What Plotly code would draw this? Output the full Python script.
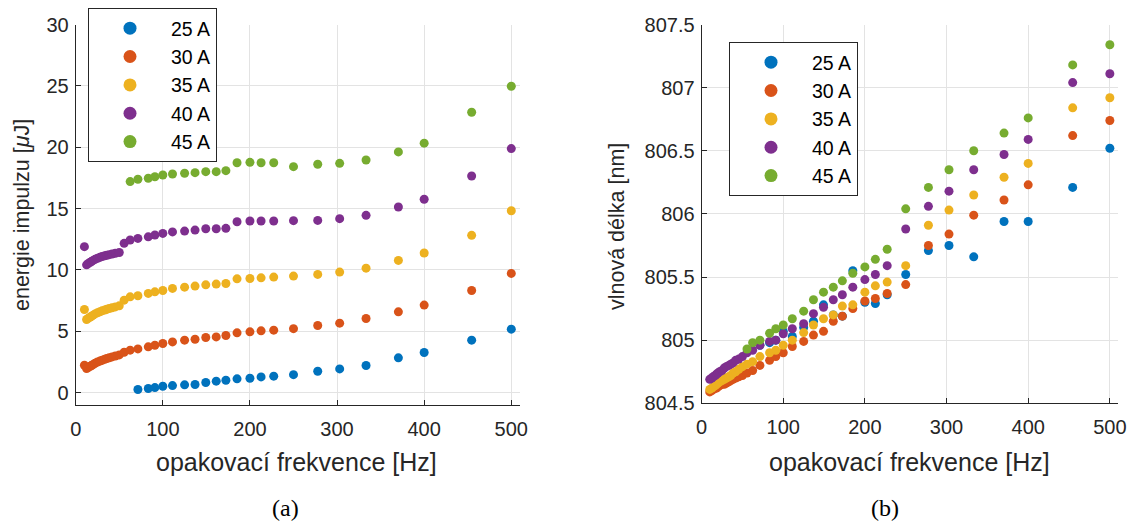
import plotly.graph_objects as go

# ---------------- data ----------------
freq_dense = [10, 12.5, 14.3, 16.7, 18.2, 20, 22.2, 25, 27.8, 30.3, 33.3, 35.7, 38.5, 41.7, 45.5, 50, 55.6]
freq_main = [62.5, 71.4, 83.3, 90.9, 100, 111.1, 125, 137, 149.3, 161.3, 172.4, 185.2, 200, 212.8,
             227.3, 250, 277.8, 303, 333.3, 370.4, 400, 454.5, 500]
freq_all = freq_dense + freq_main          # 30, 35, 40 A
freq_45 = freq_main                        # 45 A (left)
freq_45_wl = [55.6] + freq_main            # 45 A (right)
freq_25 = freq_main[1:]                    # 25 A

labels = ["25 A", "30 A", "35 A", "40 A", "45 A"]
colors = ["#0072BD", "#D95319", "#EDB120", "#7E2F8E", "#77AC30"]

# pulse energy [uJ]
energy_25 = [0.26, 0.34, 0.42, 0.53, 0.58, 0.64, 0.67, 0.83, 0.94, 1.02, 1.13, 1.18, 1.29, 1.35,
             1.47, 1.75, 1.94, 2.22, 2.84, 3.28, 4.28, 5.18]
energy_30 = [2.24, 1.97, 2.05, 2.15, 2.22, 2.30, 2.40, 2.50, 2.58, 2.65, 2.73, 2.79, 2.85, 2.92, 2.99, 3.08, 3.30,
             3.47, 3.57, 3.74, 3.87, 4.01, 4.14, 4.28, 4.36, 4.50, 4.55, 4.66, 4.88, 4.96, 5.04,
             5.10, 5.22, 5.48, 5.67, 6.05, 6.59, 7.14, 8.33, 9.72]
energy_35 = [6.78, 5.97, 6.06, 6.17, 6.24, 6.32, 6.42, 6.52, 6.60, 6.67, 6.74, 6.80, 6.86, 6.92, 6.99, 7.08, 7.54,
             7.81, 7.90, 8.09, 8.22, 8.33, 8.50, 8.60, 8.69, 8.79, 8.85, 8.90, 9.28, 9.31, 9.36,
             9.42, 9.50, 9.64, 9.83, 10.15, 10.78, 11.38, 12.82, 14.83]
energy_40 = [11.90, 10.42, 10.52, 10.63, 10.70, 10.78, 10.87, 10.96, 11.03, 11.10, 11.16, 11.20, 11.25, 11.30, 11.36, 11.42, 12.17,
             12.44, 12.57, 12.70, 12.85, 12.98, 13.10, 13.17, 13.25, 13.36, 13.36, 13.39, 13.93, 13.99, 13.99,
             13.99, 14.02, 14.04, 14.18, 14.45, 15.13, 15.76, 17.66, 19.89]
energy_45 = [17.20, 17.39, 17.47, 17.60, 17.74, 17.82, 17.88, 17.93, 18.01, 18.01, 18.09, 18.74, 18.77, 18.74,
             18.74, 18.42, 18.61, 18.69, 18.96, 19.62, 20.33, 22.85, 24.97]

# wavelength [nm]
wl_25 = [804.96, 804.98, 805.00, 805.07, 805.03, 805.10, 805.15, 805.28, 805.20, 805.19, 805.55, 805.30, 805.29,
         805.36, 805.52, 805.71, 805.75, 805.66, 805.94, 805.94, 806.21, 806.52]
wl_30 = [804.59, 804.60, 804.61, 804.62, 804.62, 804.63, 804.64, 804.65, 804.65, 804.66, 804.67, 804.68, 804.69, 804.70, 804.71, 804.72, 804.74,
         804.76, 804.80, 804.84, 804.87, 804.90, 804.95, 804.99, 805.04, 805.07, 805.15, 805.19, 805.25, 805.31, 805.33,
         805.37, 805.44, 805.75, 805.84, 805.99, 806.11, 806.23, 806.62, 806.74]
wl_35 = [804.61, 804.62, 804.63, 804.64, 804.65, 804.66, 804.67, 804.68, 804.69, 804.70, 804.71, 804.72, 804.74, 804.75, 804.77, 804.79, 804.81,
         804.83, 804.87, 804.90, 804.92, 804.96, 805.00, 805.06, 805.12, 805.17, 805.20, 805.27, 805.28, 805.38, 805.43,
         805.46, 805.59, 805.91, 806.03, 806.15, 806.29, 806.40, 806.84, 806.92]
wl_40 = [804.69, 804.70, 804.71, 804.72, 804.73, 804.74, 804.75, 804.76, 804.78, 804.79, 804.80, 804.81, 804.82, 804.84, 804.85, 804.87, 804.90,
         804.92, 804.96, 804.99, 805.00, 805.05, 805.09, 805.13, 805.21, 805.26, 805.32, 805.36, 805.42, 805.48, 805.52,
         805.59, 805.88, 806.06, 806.18, 806.35, 806.47, 806.59, 807.04, 807.11]
wl_45 = [804.93, 804.98, 805.00, 805.055, 805.09, 805.12, 805.17, 805.23, 805.32, 805.38, 805.42, 805.47, 805.53, 805.58, 805.64,
         805.72, 806.04, 806.21, 806.35, 806.50, 806.64, 806.76, 807.18, 807.34]

x_ticks = [0, 100, 200, 300, 400, 500]
e_ticks = [0, 5, 10, 15, 20, 25, 30]
wl_ticks = [804.5, 805, 805.5, 806, 806.5, 807, 807.5]
wl_tick_text = ["804.5", "805", "805.5", "806", "806.5", "807", "807.5"]

energy_x = [freq_25, freq_all, freq_all, freq_all, freq_45]
energy_y = [energy_25, energy_30, energy_35, energy_40, energy_45]
wl_x = [freq_25, freq_all, freq_all, freq_all, freq_45_wl]
wl_y = [wl_25, wl_30, wl_35, wl_40, wl_45]

# ---------------- figure ----------------
W, H = 1131, 525
FONT = "Liberation Sans, Arial, Helvetica, sans-serif"
DARK = "#262626"
GRID = "#e3e3e3"

fig = go.Figure()

for i in range(5):
    fig.add_trace(go.Scatter(x=energy_x[i], y=energy_y[i], mode="markers", xaxis="x", yaxis="y",
                             marker=dict(color=colors[i], size=9), showlegend=False))
for i in range(5):
    fig.add_trace(go.Scatter(x=wl_x[i], y=wl_y[i], mode="markers", xaxis="x2", yaxis="y2",
                             marker=dict(color=colors[i], size=9), showlegend=False))
# legend entries
for lg, ax in (("legend", ("x", "y")), ("legend2", ("x2", "y2"))):
    for i in range(5):
        fig.add_trace(go.Scatter(x=[None], y=[None], mode="markers", xaxis=ax[0], yaxis=ax[1],
                                 marker=dict(color=colors[i], size=13), name=labels[i],
                                 legend=lg, showlegend=True))

def px_x(p):
    return p / W

def px_y(p):
    return 1 - p / H

axis_common = dict(showline=True, linecolor=DARK, linewidth=1, mirror=False,
                   ticks="inside", ticklen=5, tickcolor=DARK, tickwidth=1,
                   showgrid=True, gridcolor=GRID, gridwidth=1, zeroline=False,
                   automargin=False,
                   tickfont=dict(family=FONT, size=20, color=DARK))

legend_font = dict(family=FONT, size=19.5, color="black")

fig.update_layout(
    width=W, height=H,
    margin=dict(l=0, r=0, t=0, b=0, autoexpand=False),
    paper_bgcolor="white", plot_bgcolor="white",
    xaxis=dict(domain=[px_x(75.7), px_x(520)], range=[0, 510], tickvals=x_ticks,
               anchor="y", ticklabelstandoff=6, **axis_common),
    yaxis=dict(domain=[px_y(405), px_y(24.5)], range=[-1, 30], tickvals=e_ticks,
               anchor="x", ticklabelstandoff=2, **axis_common),
    xaxis2=dict(domain=[px_x(701.6), px_x(1118)], range=[0, 510], tickvals=x_ticks,
                anchor="y2", ticklabelstandoff=6, **axis_common),
    yaxis2=dict(domain=[px_y(403.3), px_y(24.5)], range=[804.5, 807.5], tickvals=wl_ticks,
                ticktext=wl_tick_text, anchor="x2", ticklabelstandoff=2, **axis_common),
    legend=dict(x=px_x(88), y=px_y(8), xanchor="left", yanchor="top",
                bgcolor="white", bordercolor=DARK, borderwidth=1,
                font=legend_font, itemwidth=72),
    legend2=dict(x=px_x(729), y=px_y(42), xanchor="left", yanchor="top",
                 bgcolor="white", bordercolor=DARK, borderwidth=1,
                 font=legend_font, itemwidth=72),
)

xt_font = dict(family=FONT, size=25, color=DARK)
yt_font = dict(family=FONT, size=21.5, color=DARK)
annotations = [
    dict(text="opakovací frekvence [Hz]", x=px_x(296), y=px_y(462), xanchor="center", yanchor="middle",
         font=xt_font),
    dict(text="opakovací frekvence [Hz]", x=px_x(909), y=px_y(462), xanchor="center", yanchor="middle",
         font=xt_font),
    dict(text="energie impulzu [<i>μ</i>J]", x=px_x(22), y=px_y(215), xanchor="center", yanchor="middle",
         textangle=-90, font=yt_font),
    dict(text="vlnová délka [nm]", x=px_x(617), y=px_y(227), xanchor="center", yanchor="middle",
         textangle=-90, font=yt_font),
    dict(text="(a)", x=px_x(285), y=px_y(508), xanchor="center", yanchor="middle",
         font=dict(family="Liberation Serif, DejaVu Serif, serif", size=24, color="black")),
    dict(text="(b)", x=px_x(885), y=px_y(508), xanchor="center", yanchor="middle",
         font=dict(family="Liberation Serif, DejaVu Serif, serif", size=24, color="black")),
]
for a in annotations:
    a.update(xref="paper", yref="paper", showarrow=False)
fig.update_layout(annotations=annotations)

fig.write_html("out.html", config={"displayModeBar": False},
               post_script="document.body.style.margin='0px';document.body.style.overflow='hidden';")
